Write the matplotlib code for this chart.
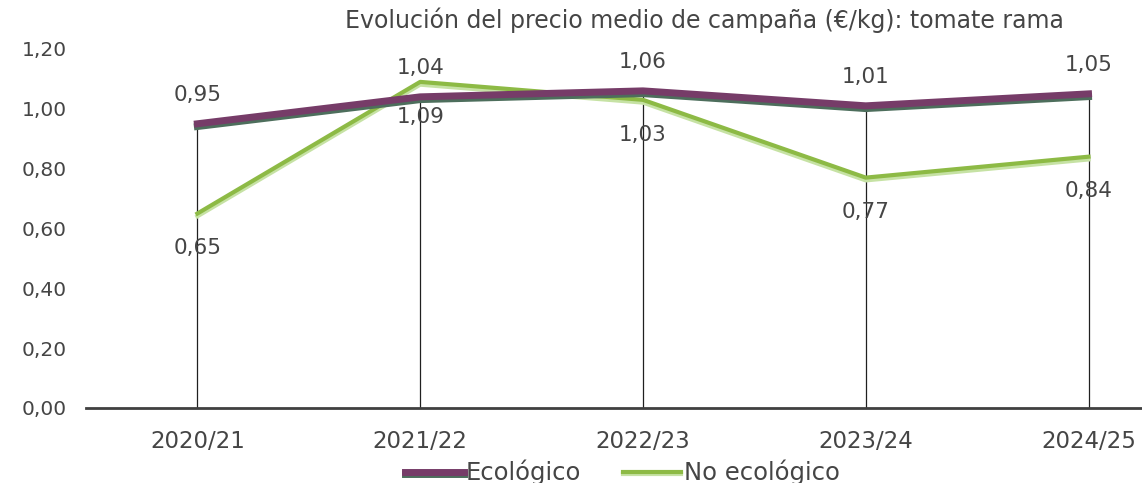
import numpy as np
import matplotlib.pyplot as plt
import matplotlib.patheffects as pe

plt.rcParams['font.family'] = ['DejaVu Sans']

campaigns = ['2020/21', '2021/22', '2022/23', '2023/24', '2024/25']
eco = [0.95, 1.04, 1.06, 1.01, 1.05]
no_eco = [0.65, 1.09, 1.03, 0.77, 0.84]
# labels as shown in the chart
eco_labels = ['0,95', '1,04', '1,06', '1,01', '1,05']
no_eco_labels = ['0,65', '1,09', '1,03', '0,77', '0,84']

purple = '#763c68'
green = '#8dba45'
txt = '#454545'

fig = plt.figure(figsize=(11.42, 4.83), dpi=100)
ax = fig.add_axes([0.0753, 0.1553, 0.9247, 0.7433])
x = np.arange(len(campaigns))

# drop lines
ax.vlines(x, 0, eco, color='#202020', linewidth=0.9, zorder=1)

ax.plot(x, no_eco, color=green, linewidth=3, label='No ecológico', zorder=3,
        path_effects=[pe.SimpleLineShadow(offset=(0, -2), shadow_color='#c6e2a4', alpha=1),
                      pe.Normal()])
ax.plot(x, eco, color=purple, linewidth=5, label='Ecológico', zorder=4,
        path_effects=[pe.SimpleLineShadow(offset=(0, -2), shadow_color='#4d6e5c', alpha=1),
                      pe.Normal()])

for i in range(len(x)):
    ax.annotate(eco_labels[i], (x[i], eco[i]), xytext=(0, 21), textcoords='offset points',
                ha='center', va='center', fontsize=15.5, color=txt)
    ax.annotate(no_eco_labels[i], (x[i], no_eco[i]), xytext=(0, -25), textcoords='offset points',
                ha='center', va='center', fontsize=15.5, color=txt)

ax.set_xlim(-0.5, 4.24)
ax.set_ylim(0, 1.2)
ax.set_yticks(np.arange(0, 1.21, 0.2))
ax.set_yticklabels([f'{v:.2f}'.replace('.', ',') for v in np.arange(0, 1.21, 0.2)])
ax.set_xticks(x)
ax.set_xticklabels(campaigns)
ax.tick_params(axis='y', length=0, pad=14, labelsize=14.5, labelcolor=txt)
ax.tick_params(axis='x', length=0, pad=16, labelsize=16.5, labelcolor=txt)
for s in ['top', 'right', 'left']:
    ax.spines[s].set_visible(False)
ax.spines['bottom'].set_color('#404040')
ax.spines['bottom'].set_linewidth(2)

fig.text(0.617, 0.958, 'Evolución del precio medio de campaña (€/kg): tomate rama',
         ha='center', va='center', fontsize=17, color=txt)

h, l = ax.get_legend_handles_labels()
fig.legend(h[::-1], l[::-1], loc='center', bbox_to_anchor=(0.545, 0.022), ncol=2,
           frameon=False, fontsize=17.5, handlelength=2.4, handletextpad=0.1,
           columnspacing=1.7, labelcolor=txt)

fig.savefig('out.png', dpi=100)
